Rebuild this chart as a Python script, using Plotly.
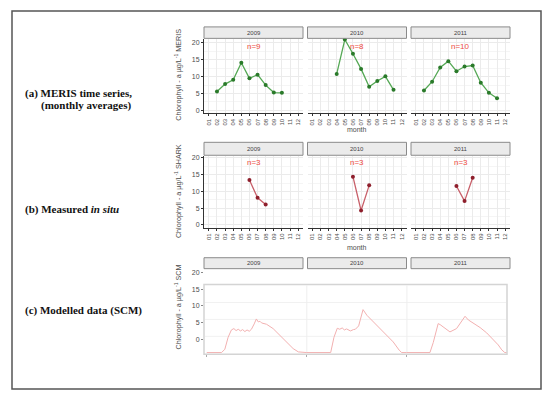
import plotly.graph_objects as go

# the page body has an 8px default margin, so the figure is drawn 8px in
OFF = 8
W, H = 550 - OFF, 399 - OFF

years = ["2009", "2010", "2011"]
month_labels = ["01", "02", "03", "04", "05", "06", "07", "08", "09", "10", "11", "12"]
y_ticks = [0, 5, 10, 15, 20]

# (a) MERIS monthly averages
meris_2009_months = ["02", "03", "04", "05", "06", "07", "08", "09", "10"]
meris_2009_values = [5.6, 7.8, 9.1, 14.1, 9.5, 10.6, 7.5, 5.3, 5.2]
meris_2010_months = ["04", "05", "06", "07", "08", "09", "10", "11"]
meris_2010_values = [10.8, 21.0, 16.8, 12.3, 7.0, 8.7, 10.1, 6.1]
meris_2011_months = ["02", "03", "04", "05", "06", "07", "08", "09", "10", "11"]
meris_2011_values = [5.9, 8.5, 12.7, 14.6, 11.6, 13.0, 13.3, 8.2, 5.2, 3.6]
meris_n = ["n=9", "n=8", "n=10"]

# (b) SHARK in situ
shark_2009_months = ["06", "07", "08"]
shark_2009_values = [13.4, 8.1, 6.1]
shark_2010_months = ["06", "07", "08"]
shark_2010_values = [14.4, 4.3, 11.8]
shark_2011_months = ["06", "07", "08"]
shark_2011_values = [11.6, 7.1, 14.1]
shark_n = ["n=3", "n=3", "n=3"]

# (c) SCM modelled series
scm_dates = [
    "2009-01-01", "2009-02-24", "2009-03-08", "2009-03-20", "2009-04-01", "2009-04-10",
    "2009-04-18", "2009-04-26", "2009-05-04", "2009-05-12", "2009-05-20", "2009-05-28",
    "2009-06-05", "2009-06-13", "2009-06-23", "2009-07-01", "2009-07-08", "2009-07-14",
    "2009-07-20", "2009-08-07", "2009-08-31", "2009-09-25", "2009-10-19", "2009-11-12",
    "2009-12-01", "2009-12-31",
    "2010-01-01", "2010-03-29", "2010-04-10", "2010-04-22", "2010-05-01", "2010-05-10",
    "2010-05-18", "2010-05-26", "2010-06-09", "2010-06-20", "2010-06-27", "2010-07-09",
    "2010-07-25", "2010-08-08", "2010-09-01", "2010-09-25", "2010-10-19", "2010-11-12",
    "2010-12-04", "2010-12-13", "2010-12-31",
    "2011-01-01", "2011-03-26", "2011-04-07", "2011-04-19", "2011-04-25", "2011-05-02",
    "2011-05-20", "2011-06-07", "2011-07-01", "2011-07-20", "2011-08-01", "2011-08-13",
    "2011-08-31", "2011-09-25", "2011-10-19", "2011-11-12", "2011-11-30", "2011-12-13",
    "2011-12-24", "2011-12-31",
]
scm_values = [
    -4.0, -4.0, -3.0, 0.6, 2.8, 3.2,
    2.6, 3.0, 2.5, 2.9, 2.3, 2.8,
    2.4, 3.0, 4.6, 6.1, 5.2, 5.4,
    4.9, 4.5, 3.2, 1.2, -0.8, -2.8,
    -3.8, -4.0,
    -4.0, -4.0, 0.6, 3.3, 3.0, 3.4,
    2.8, 3.1, 2.5, 2.9, 3.0, 4.0,
    8.9, 7.2, 5.2, 3.2, 1.2, -0.8,
    -3.3, -4.0, -4.0,
    -4.0, -4.0, -1.0, 3.0, 4.7, 4.4,
    3.2, 2.2, 3.2, 5.7, 6.9, 5.8,
    4.9, 3.5, 1.9, 0.0, -1.7, -3.2,
    -4.0, -4.0,
]
scm_year_starts = ["2009-01-01", "2010-01-01", "2011-01-01"]


def fx(p):
    return (p - OFF) / W


def fy(p):
    return 1 - (p - OFF) / H


col_px = [(204, 303), (307.5, 406.5), (411, 510)]
row_a = (37, 112)
row_b = (155, 227)
row_c = (270, 354)
strip_a = (25, 36.5)
strip_b = (141, 154)
strip_c = (257, 268)

SANS = "Liberation Sans"
TXT = "#4d4d4d"
AX = "#333333"
GRID = "#ebebeb"
MINOR = "#f5f5f5"
GREEN_L = "#55a855"
GREEN_D = "#2a7a2a"
RED_L = "#c8606a"
RED_D = "#8e1f2c"
NRED = "#ee4a40"
PINK = "#f2b0b0"

fig = go.Figure()
layout = dict(
    width=W, height=H, margin=dict(l=0, r=0, t=0, b=0),
    paper_bgcolor="white", plot_bgcolor="white", showlegend=False,
    font=dict(family=SANS, size=7, color=TXT),
)
shapes = []
annotations = []


def note(x, y, text, size, color, family=SANS, xanchor="center", angle=0):
    annotations.append(dict(x=fx(x), y=fy(y), xref="paper", yref="paper", text=text,
                            showarrow=False, xanchor=xanchor, yanchor="middle",
                            textangle=angle, font=dict(family=family, size=size, color=color)))


month_num = {m: i + 1 for i, m in enumerate(month_labels)}

meris = [(meris_2009_months, meris_2009_values), (meris_2010_months, meris_2010_values),
         (meris_2011_months, meris_2011_values)]
shark = [(shark_2009_months, shark_2009_values), (shark_2010_months, shark_2010_values),
         (shark_2011_months, shark_2011_values)]


def add_row(row_index, data, ns, rows_px, yrange, line_c, mark_c, n_y):
    for c in range(3):
        k = row_index * 3 + c + 1
        xa = "xaxis" if k == 1 else f"xaxis{k}"
        ya = "yaxis" if k == 1 else f"yaxis{k}"
        xs = [month_num[m] for m in data[c][0]]
        fig.add_trace(go.Scatter(
            x=xs, y=data[c][1], xaxis=f"x{k}", yaxis=f"y{k}", mode="lines+markers",
            line=dict(color=line_c, width=1.3), marker=dict(color=mark_c, size=4),
            cliponaxis=False, hoverinfo="skip"))
        layout[xa] = dict(
            domain=[fx(col_px[c][0]), fx(col_px[c][1])], anchor=f"y{k}",
            range=[0.4, 12.6], tickmode="array", tickvals=list(range(1, 13)),
            ticktext=month_labels, tickangle=-90, tickfont=dict(size=6, color=TXT),
            showgrid=True, gridcolor=GRID, gridwidth=1, zeroline=False,
            showline=True, linecolor=AX, linewidth=1, ticks="outside", ticklen=2,
            tickcolor=AX, fixedrange=True)
        layout[ya] = dict(
            domain=[fy(rows_px[1]), fy(rows_px[0])], anchor=f"x{k}", range=yrange,
            tickmode="array", tickvals=y_ticks, showticklabels=(c == 0),
            tickfont=dict(size=7, color=TXT), showgrid=True, gridcolor=GRID,
            zeroline=False, showline=(c == 0), linecolor=AX, linewidth=1,
            ticks="outside" if c == 0 else "", ticklen=2, tickcolor=AX,
            minor=dict(tickmode="array", tickvals=[2.5, 7.5, 12.5, 17.5],
                       showgrid=True, gridcolor=MINOR, ticks=""),
            fixedrange=True)
        note((col_px[c][0] + col_px[c][1]) / 2, n_y, ns[c], 8, NRED)


add_row(0, meris, meris_n, row_a, [-0.9, 21.2], GREEN_L, GREEN_D, 44.5)
add_row(1, shark, shark_n, row_b, [-0.9, 20.5], RED_L, RED_D, 161)

# row c
fig.add_trace(go.Scatter(
    x=scm_dates, y=scm_values, xaxis="x7", yaxis="y7", mode="lines",
    line=dict(color=PINK, width=1), hoverinfo="skip"))
layout["xaxis7"] = dict(
    domain=[fx(204), fx(507)], anchor="y7", type="date",
    range=["2008-12-22", "2012-01-01"], tickmode="array", tickvals=scm_year_starts,
    showticklabels=False, ticks="outside", ticklen=2, tickcolor="#aaaaaa",
    showgrid=False, zeroline=False, showline=False, fixedrange=True)
layout["yaxis7"] = dict(
    domain=[fy(row_c[1]), fy(row_c[0])], anchor="x7", range=[-4.5, 20.6],
    tickmode="array", tickvals=y_ticks, tickfont=dict(size=7, color=TXT),
    showgrid=False, zeroline=False, showline=False, ticks="outside", ticklen=2,
    tickcolor="#888888", fixedrange=True)

# row c panel frame and faint grid
shapes.append(dict(type="rect", xref="paper", yref="paper", x0=fx(204), x1=fx(507),
                   y0=fy(354), y1=fy(284), line=dict(color="#d4d4d4", width=1.5),
                   fillcolor="rgba(0,0,0,0)", layer="above"))
for gy in [302, 319, 336]:
    shapes.append(dict(type="line", xref="paper", yref="paper", x0=fx(205), x1=fx(506),
                       y0=fy(gy), y1=fy(gy), line=dict(color="#f1f1f1", width=1), layer="below"))
for d in scm_year_starts[1:]:
    shapes.append(dict(type="line", xref="x7", yref="paper", x0=d, x1=d,
                       y0=fy(353), y1=fy(285), line=dict(color="#eeeeee", width=1), layer="below"))

# strips
for (s0, s1) in [strip_a, strip_b, strip_c]:
    for c in range(3):
        shapes.append(dict(type="rect", xref="paper", yref="paper",
                           x0=fx(col_px[c][0]), x1=fx(col_px[c][1]), y0=fy(s1), y1=fy(s0),
                           line=dict(color="#8a8a8a", width=1), fillcolor="#ebebeb"))
        note((col_px[c][0] + col_px[c][1]) / 2, (s0 + s1) / 2, years[c], 6, "#444444")

# outer frame
shapes.append(dict(type="rect", xref="paper", yref="paper", x0=fx(12), x1=fx(541),
                   y0=fy(389), y1=fy(9), line=dict(color="#555555", width=1.5),
                   fillcolor="rgba(0,0,0,0)"))

# y titles
for txt, yc in [("Chlorophyll - a µg/L<sup>-1</sup> MERIS", 73),
                ("Chlorophyll - a µg/L<sup>-1</sup> SHARK", 190),
                ("Chlorophyll - a µg/L<sup>-1</sup> SCM", 307)]:
    note(178, yc, txt, 7.2, TXT, angle=-90)

# x titles
for yt in [128, 247]:
    note(357, yt, "month", 7, TXT)

# row labels
SERIF = "Liberation Serif"
for txt, x0, yc in [("<b>(a) MERIS time series,</b>", 23, 92),
                    ("<b>(monthly averages)</b>", 39, 104),
                    ("<b>(b) Measured <i>in situ</i></b>", 23, 209),
                    ("<b>(c) Modelled data (SCM)</b>", 23, 310)]:
    note(x0, yc, txt, 11, "#111111", family=SERIF, xanchor="left")

layout["shapes"] = shapes
layout["annotations"] = annotations
fig.update_layout(**layout)
fig.write_html("out.html")
